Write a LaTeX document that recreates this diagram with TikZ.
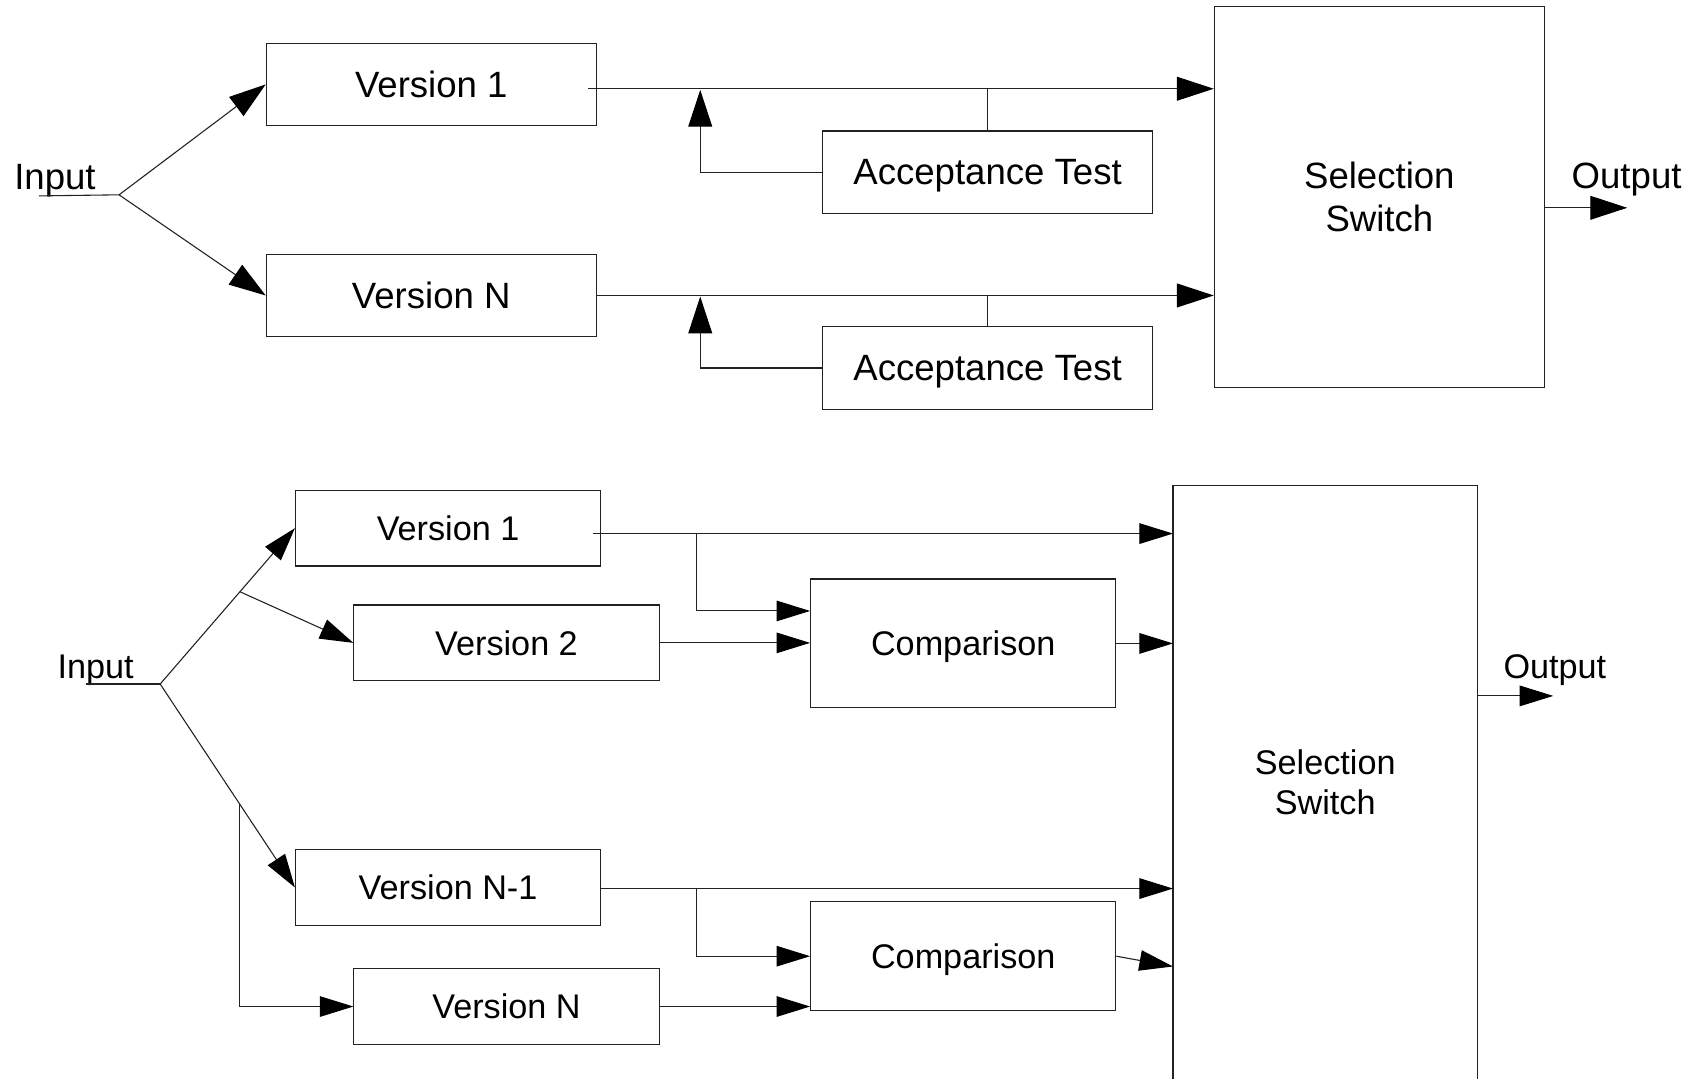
\documentclass[tikz,border=0pt]{standalone}
\usepackage{fontspec}
\setmainfont{Liberation Sans}
\usetikzlibrary{arrows.meta,calc}
\definecolor{linec}{HTML}{222222}
\begin{document}
\begin{tikzpicture}[x=1pt,y=-1pt,
  ln/.style={draw=linec,line width=1pt},
  bx/.style={draw=linec,line width=1pt,inner sep=0pt,align=center,text=black,text depth=0pt},
  arT/.style={ln,-{Triangle[length=34pt,width=22pt,color=black]}},
  arB/.style={ln,-{Triangle[length=31pt,width=19pt,color=black]}},
  ft/.style={font=\fontsize{33.8}{40}\selectfont},
  fb/.style={font=\fontsize{31.6}{37}\selectfont},
  lbl/.style={anchor=base west,inner sep=0pt,text=black}]
\useasboundingbox (0,0) rectangle (1568,997);
\fill[white] (0,0) rectangle (1568,997);

% ---------------- top: recovery blocks ----------------
\node[bx,ft,minimum width=305pt,minimum height=76pt] (v1) at (398.5,78) {Version 1};
\node[bx,ft,minimum width=305pt,minimum height=76pt] (vn) at (398.5,273) {Version N};
\node[bx,ft,minimum width=305pt,minimum height=76pt] (at1) at (912.5,159) {Acceptance Test};
\node[bx,ft,minimum width=305pt,minimum height=76pt] (at2) at (912.5,340) {Acceptance Test};
\node[bx,ft,minimum width=305pt,minimum height=352pt] (sw1) at (1274.5,182) {Selection\\Switch};

\node[lbl,ft] (in1) at (13,175) {Input};
\coordinate (u1) at (36,181);
\coordinate (f1) at (110,180);
\draw[ln] (u1) -- (f1);
\draw[arT] (f1) -- (v1.west);
\draw[arT] (f1) -- (vn.west);

\coordinate (l1) at ([xshift=-8pt,yshift=-4pt]v1.east);
\draw[arT] (l1) -- (l1 -| sw1.west);
\draw[ln] (at1.north) -- (at1.north |- l1);
\coordinate (fb1) at (647,83);
\draw[arT] (at1.west) -| (fb1);

\draw[arT] (vn.east) -- (vn.east -| sw1.west);
\draw[ln] (at2.north) -- (at2.north |- vn.east);
\coordinate (fb2) at (647,274);
\draw[arT] (at2.west) -| (fb2);

\coordinate (o1s) at ([yshift=-10pt]sw1.east);
\coordinate (o1e) at ([xshift=76pt]o1s);
\draw[arT] (o1s) -- (o1e);
\node[lbl,ft] (out1) at (1452,174) {Output};

% ---------------- bottom: N-version ----------------
\node[bx,fb,minimum width=282pt,minimum height=70pt] (v1b) at (414,488) {Version 1};
\node[bx,fb,minimum width=282pt,minimum height=70pt] (v2b) at (468,594) {Version 2};
\node[bx,fb,minimum width=282pt,minimum height=70pt] (vn1b) at (414,820) {Version N-1};
\node[bx,fb,minimum width=282pt,minimum height=70pt] (vnb) at (468,930) {Version N};
\node[bx,fb,minimum width=282pt,minimum height=119pt] (c1) at (890,594.5) {Comparison};
\node[bx,fb,minimum width=282pt,minimum height=101pt] (c2) at (890,883.5) {Comparison};
\node[inner sep=0pt,fb,align=center,minimum width=281pt,minimum height=548pt] (sw2) at (1224.5,723) {Selection\\Switch};
\draw[ln] (sw2.south west) -- (sw2.north west) -- (sw2.north east) -- (sw2.south east);

\node[lbl,fb] (in2) at (53,627) {Input};
\coordinate (u2) at (79,632);
\coordinate (f2) at (148,632);
\draw[ln] (u2) -- (f2);
\draw[arB] (f2) -- (v1b.west);
\coordinate (b1) at ($(f2)!0.592!(v1b.west)$);
\draw[arB] (b1) -- (v2b.west);
\draw[arB] (f2) -- (vn1b.west);
\coordinate (b2) at ($(f2)!0.592!(vn1b.west)$);
\draw[arB] (b2) |- (vnb.west);

\coordinate (l3) at ([xshift=-8pt,yshift=-5pt]v1b.east);
\draw[arB] (l3) -- (l3 -| sw2.west);
\coordinate (j3) at ($(l3)+(96,0)$);
\draw[arB] (j3) |- ([yshift=30pt]c1.west);
\draw[arB] (v2b.east) -- (v2b.east -| c1.west);
\draw[arB] (c1.east) -- (c1.east -| sw2.west);

\coordinate (l4) at ([yshift=-1pt]vn1b.east);
\draw[arB] (l4) -- (l4 -| sw2.west);
\coordinate (j4) at ($(l4)+(88,0)$);
\draw[arB] (j4) |- (c2.west);
\draw[arB] (vnb.east) -- (vnb.east -| c2.west);
\coordinate (s2d) at ([yshift=-170pt]sw2.west);
\draw[arB] (c2.east) -- (s2d);

\coordinate (o2s) at ([yshift=80pt]sw2.east);
\coordinate (o2e) at ([xshift=70pt]o2s);
\draw[arB] (o2s) -- (o2e);
\node[lbl,fb] (out2) at (1389,627) {Output};
\end{tikzpicture}
\end{document}
